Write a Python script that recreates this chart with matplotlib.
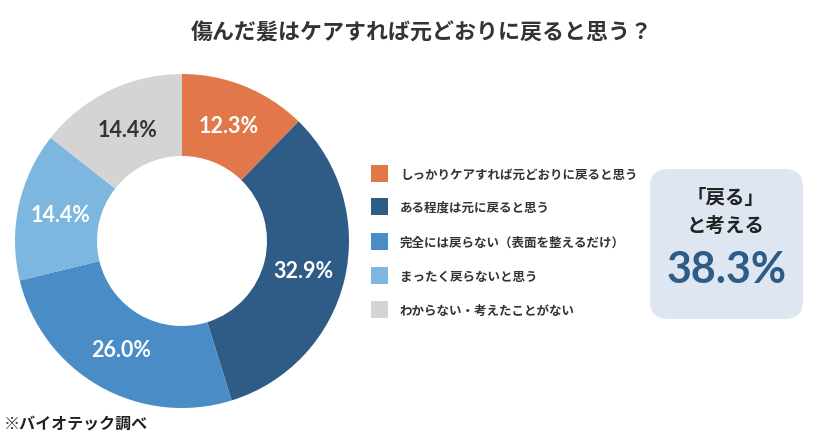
import matplotlib
matplotlib.use("Agg")
import matplotlib.pyplot as plt
from matplotlib.patches import FancyBboxPatch, Rectangle
import math

plt.rcParams['font.family'] = ['Noto Sans CJK JP', 'DejaVu Sans']

# -------- DATA --------
title = "傷んだ髪はケアすれば元どおりに戻ると思う？"
categories = [
    "しっかりケアすれば元どおりに戻ると思う",
    "ある程度は元に戻ると思う",
    "完全には戻らない（表面を整えるだけ）",
    "まったく戻らないと思う",
    "わからない・考えたことがない",
]
values = [12.3, 32.9, 26.0, 14.4, 14.4]
colors = ["#E2774A", "#2E5C87", "#4A8CC6", "#7DB6DF", "#D4D4D4"]
label_colors = ["white", "white", "white", "white", "#333333"]
box_lines = ["「戻る」", "と考える"]
box_value = "38.3%"
note = "※バイオテック調べ"

W, H = 840, 439
fig = plt.figure(figsize=(W / 100, H / 100), dpi=100)
fig.patch.set_facecolor("white")

# -------- DONUT --------
cx, cy, r = 182, 242, 167
half = 172
ax = fig.add_axes([(cx - half) / W, (H - cy - half) / H, 2 * half / W, 2 * half / H])
wedges, _ = ax.pie(values, colors=colors, startangle=90, counterclock=False,
                   radius=r / half, wedgeprops=dict(width=(r - 85) / half, linewidth=0))
ax.set_xlim(-1, 1)
ax.set_ylim(-1, 1)
ax.set_aspect("equal")
ax.axis("off")

start = 90
for v, c in zip(values, label_colors):
    mid = math.radians(start - v * 3.6 / 2)
    start -= v * 3.6
    lr = 0.745 * r / half
    ax.text(lr * math.cos(mid), lr * math.sin(mid), f"{v:.1f}%", ha="center", va="center",
            color=c, fontsize=15.5, fontweight="bold", family=["Lato", "DejaVu Sans"])

# -------- OVERLAY (pixel coords) --------
ov = fig.add_axes([0, 0, 1, 1])
ov.set_xlim(0, W)
ov.set_ylim(H, 0)
ov.axis("off")
ov.patch.set_alpha(0)

ov.text(422, 33, title, ha="center", va="center", fontsize=15.8, fontweight="bold", color="#333333")

row_y = [175, 208, 243, 277, 311]
for y, lab, col in zip(row_y, categories, colors):
    ov.add_patch(Rectangle((371, y - 9), 17, 17, facecolor=col, edgecolor="none"))
    ov.text(400, y, lab, ha="left", va="center", fontsize=9, fontweight="bold", color="#333333")

ov.add_patch(FancyBboxPatch((668, 188), 117, 114, boxstyle="round,pad=18,rounding_size=18",
                            facecolor="#DEE7F1", edgecolor="none"))
ov.text(726, 199, box_lines[0], ha="center", va="center", fontsize=14, fontweight="bold", color="#222222")
ov.text(726, 226, box_lines[1], ha="center", va="center", fontsize=14, fontweight="bold", color="#222222")
ov.text(727, 270, box_value, ha="center", va="center", fontsize=31, fontweight="bold",
        color="#2E5C87", family=["Lato", "DejaVu Sans"])

ov.text(4, 424, note, ha="left", va="center", fontsize=11.5, fontweight="bold", color="#222222")

fig.savefig("out.png", dpi=100, facecolor="white")
